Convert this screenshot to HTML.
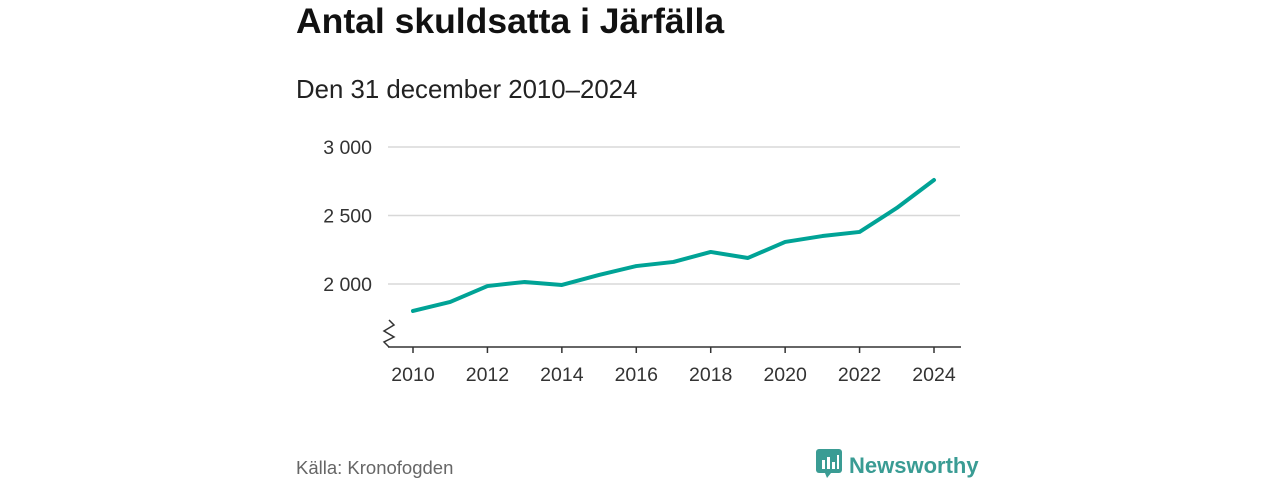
<!DOCTYPE html>
<html><head><meta charset="utf-8"><style>
body{margin:0;width:1280px;height:480px;background:#fff;font-family:"Liberation Sans","DejaVu Sans",sans-serif;overflow:hidden;position:relative}
.t{position:absolute;white-space:nowrap}
</style></head><body>
<div class="t" style="left:296px;top:1px;font-size:35.5px;font-weight:bold;color:#111">Antal skuldsatta i Järfälla</div>
<div class="t" style="left:296px;top:76px;font-size:25.8px;color:#222">Den 31 december 2010–2024</div>
<svg id="c" width="1280" height="480" style="position:absolute;left:0;top:0"></svg>
<div class="t" style="left:296px;top:457px;font-size:18.5px;color:#666">Källa: Kronofogden</div>
<div class="t" style="left:815px;top:447px;font-size:22px;font-weight:bold;color:#3a9c94">
<svg width="28" height="32" style="vertical-align:-6px;margin-right:6px"><rect x="1" y="2" width="26" height="24" rx="3" fill="#3a9c94"/><polygon points="10,26 16,26 12,31" fill="#3a9c94"/><rect x="7" y="13" width="3" height="9" fill="#fff"/><rect x="12" y="10" width="3" height="12" fill="#fff"/><rect x="17" y="15" width="3" height="7" fill="#fff"/><rect x="22" y="8" width="2" height="14" fill="#fff"/></svg>Newsworthy</div>
<script>
const years=[2010,2011,2012,2013,2014,2015,2016,2017,2018,2019,2020,2021,2022,2023,2024];
const values=[1803,1869,1985,2015,1993,2066,2131,2161,2234,2190,2307,2350,2380,2555,2759];
const yTicks=[2000,2500,3000];
const yTickLabels=["2 000","2 500","3 000"];
const xTicks=[2010,2012,2014,2016,2018,2020,2022,2024];
const svg=document.getElementById('c');const NS='http://www.w3.org/2000/svg';
const x=v=>413+(v-2010)*(934-413)/14;
const y=v=>284-(v-2000)*(137/1000);
function mk(t,a,txt){const e=document.createElementNS(NS,t);for(const k in a)e.setAttribute(k,a[k]);if(txt!==undefined)e.textContent=txt;svg.appendChild(e);return e;}
yTicks.forEach((v,i)=>{
 const g=mk('line',{x1:388,x2:960,y1:y(v),y2:y(v),stroke:'#d8d8d8','stroke-width':1.5});
 
 
 const t=mk('text',{x:372,y:y(v)+7,'text-anchor':'end','font-size':19.5,fill:'#333','font-family':'Liberation Sans, sans-serif'},yTickLabels[i]);
 
 
});
const ax=mk('line',{x1:388,x2:961,y1:347,y2:347,stroke:'#333','stroke-width':1.5});


const br=mk('polyline',{points:'389,320 394,325 384,331 394,337 384,342 389,347',fill:'none',stroke:'#333','stroke-width':1.5});


xTicks.forEach(v=>{
 const l=mk('line',{x1:x(v),x2:x(v),y1:347,y2:353,stroke:'#333','stroke-width':1.5});
 
 
 const t=mk('text',{x:x(v),y:381,'text-anchor':'middle','font-size':19.5,fill:'#333','font-family':'Liberation Sans, sans-serif'},String(v));
 
 
});
const p=mk('polyline',{points:years.map((yr,i)=>x(yr)+','+y(values[i])).join(' '),fill:'none',stroke:'#00a396','stroke-width':4,'stroke-linejoin':'round','stroke-linecap':'round'});


</script>
</body></html>
